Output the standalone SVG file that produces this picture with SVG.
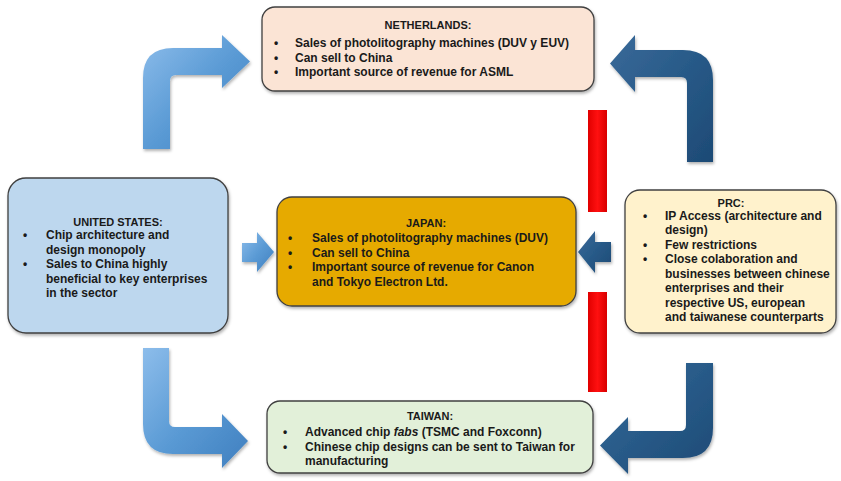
<svg xmlns="http://www.w3.org/2000/svg" width="841" height="481" viewBox="0 0 841 481">
<style>
.box{stroke:#404040;stroke-width:1.3}
.t{font-family:"Liberation Sans",Arial,sans-serif;font-weight:bold;font-size:12px;fill:#1a1a1a}
.h{font-size:11px}
.c{text-anchor:middle}
.lb{fill:url(#lightG)}
.db{fill:url(#darkG)}
.red{fill:url(#redG)}
</style>
<defs>
<linearGradient id="lightG" x1="0" y1="0" x2="1" y2="1">
<stop offset="0" stop-color="#8DBDEB"/>
<stop offset="0.5" stop-color="#5B9BD5"/>
<stop offset="1" stop-color="#3F7FBF"/>
</linearGradient>
<linearGradient id="darkG" x1="0" y1="0" x2="1" y2="1">
<stop offset="0" stop-color="#3A6A99"/>
<stop offset="0.5" stop-color="#285A88"/>
<stop offset="1" stop-color="#1D4A75"/>
</linearGradient>
<linearGradient id="redG" x1="0" y1="0" x2="1" y2="0">
<stop offset="0" stop-color="#E00000"/>
<stop offset="0.5" stop-color="#FF1010"/>
<stop offset="1" stop-color="#D80000"/>
</linearGradient>
<filter id="sh" x="-10%" y="-10%" width="120%" height="130%">
<feDropShadow dx="1" dy="2" stdDeviation="1.5" flood-color="#000" flood-opacity="0.3"/>
</filter>
</defs>

<g id="connectors">
<path class="lb" filter="url(#sh)" d="M143,149 L143,78 Q143,48 173,48 L222,48 L222,35 L250,61.5 L222,88 L222,75 L176,75 Q170,75 170,81 L170,149 Z"/>
<path class="db" filter="url(#sh)" d="M713,162 L713,80 Q713,50 683,50 L635,50 L635,35 L610,63.5 L635,92 L635,77 L681,77 Q687,77 687,83 L687,162 Z"/>
<path class="lb" filter="url(#sh)" d="M143,348 L169,348 L169,421 Q169,427 175,427 L222,427 L222,414 L248,441 L222,468 L222,454 L173,454 Q143,454 143,424 Z"/>
<path class="db" filter="url(#sh)" d="M713,363 L686,363 L686,425 Q686,431 680,431 L628,431 L628,417 L600,445.5 L628,474 L628,458 L683,458 Q713,458 713,428 Z"/>
<path class="lb" filter="url(#sh)" d="M242,243 L257,243 L257,232 L274,252 L257,272 L257,262 L242,262 Z"/>
<path class="db" filter="url(#sh)" d="M611,242 L595,242 L595,231 L578,252 L595,273 L595,262 L611,262 Z"/>
<rect class="red" x="588" y="110" width="19" height="102"/>
<rect class="red" x="588" y="292" width="19" height="100"/>
</g>

<g id="netherlands">
<rect class="box" x="262" y="7" width="332" height="84" rx="13" fill="#FBE4D5" filter="url(#sh)"/>
<text class="t h c" x="428" y="29">NETHERLANDS:</text>
<text class="t" x="274" y="47">•</text><text class="t" x="295" y="47">Sales of photolitography machines (DUV y EUV)</text>
<text class="t" x="274" y="61.5">•</text><text class="t" x="295" y="61.5">Can sell to China</text>
<text class="t" x="274" y="76">•</text><text class="t" x="295" y="76">Important source of revenue for ASML</text>
</g>

<g id="united-states">
<rect class="box" x="8" y="178" width="220" height="155" rx="18" fill="#BDD7EE" filter="url(#sh)"/>
<text class="t h c" x="118" y="226">UNITED STATES:</text>
<text class="t" x="23" y="239">•</text><text class="t" x="46" y="239">Chip architecture and</text>
<text class="t" x="46" y="253.5">design monopoly</text>
<text class="t" x="23" y="268">•</text><text class="t" x="46" y="268">Sales to China highly</text>
<text class="t" x="46" y="282.5">beneficial to key enterprises</text>
<text class="t" x="46" y="297">in the sector</text>
</g>

<g id="japan">
<rect class="box" x="277" y="197" width="299" height="109" rx="15" fill="#E6AA00" filter="url(#sh)"/>
<text class="t h c" x="426" y="227">JAPAN:</text>
<text class="t" x="288" y="242">•</text><text class="t" x="312" y="242">Sales of photolitography machines (DUV)</text>
<text class="t" x="288" y="256.5">•</text><text class="t" x="312" y="256.5">Can sell to China</text>
<text class="t" x="288" y="271">•</text><text class="t" x="312" y="271">Important source of revenue for Canon</text>
<text class="t" x="312" y="285.5">and Tokyo Electron Ltd.</text>
</g>

<g id="prc">
<rect class="box" x="625" y="190" width="211" height="143" rx="15" fill="#FFF2CC" filter="url(#sh)"/>
<text class="t h c" x="731" y="207">PRC:</text>
<text class="t" x="643" y="219.5">•</text><text class="t" x="665" y="219.5">IP Access (architecture and</text>
<text class="t" x="665" y="234">design)</text>
<text class="t" x="643" y="248.5">•</text><text class="t" x="665" y="248.5">Few restrictions</text>
<text class="t" x="643" y="263">•</text><text class="t" x="665" y="263">Close colaboration and</text>
<text class="t" x="665" y="277.5">businesses between chinese</text>
<text class="t" x="665" y="292">enterprises and their</text>
<text class="t" x="665" y="306.5">respective US, european</text>
<text class="t" x="665" y="321">and taiwanese counterparts</text>
</g>

<g id="taiwan">
<rect class="box" x="267" y="401" width="326" height="72" rx="13" fill="#E2F0D9" filter="url(#sh)"/>
<text class="t h c" x="430" y="420">TAIWAN:</text>
<text class="t" x="283" y="436">•</text><text class="t" x="305" y="436">Advanced chip <tspan font-style="italic">fabs</tspan> (TSMC and Foxconn)</text>
<text class="t" x="283" y="450.5">•</text><text class="t" x="305" y="450.5">Chinese chip designs can be sent to Taiwan for</text>
<text class="t" x="305" y="465">manufacturing</text>
</g>
</svg>
